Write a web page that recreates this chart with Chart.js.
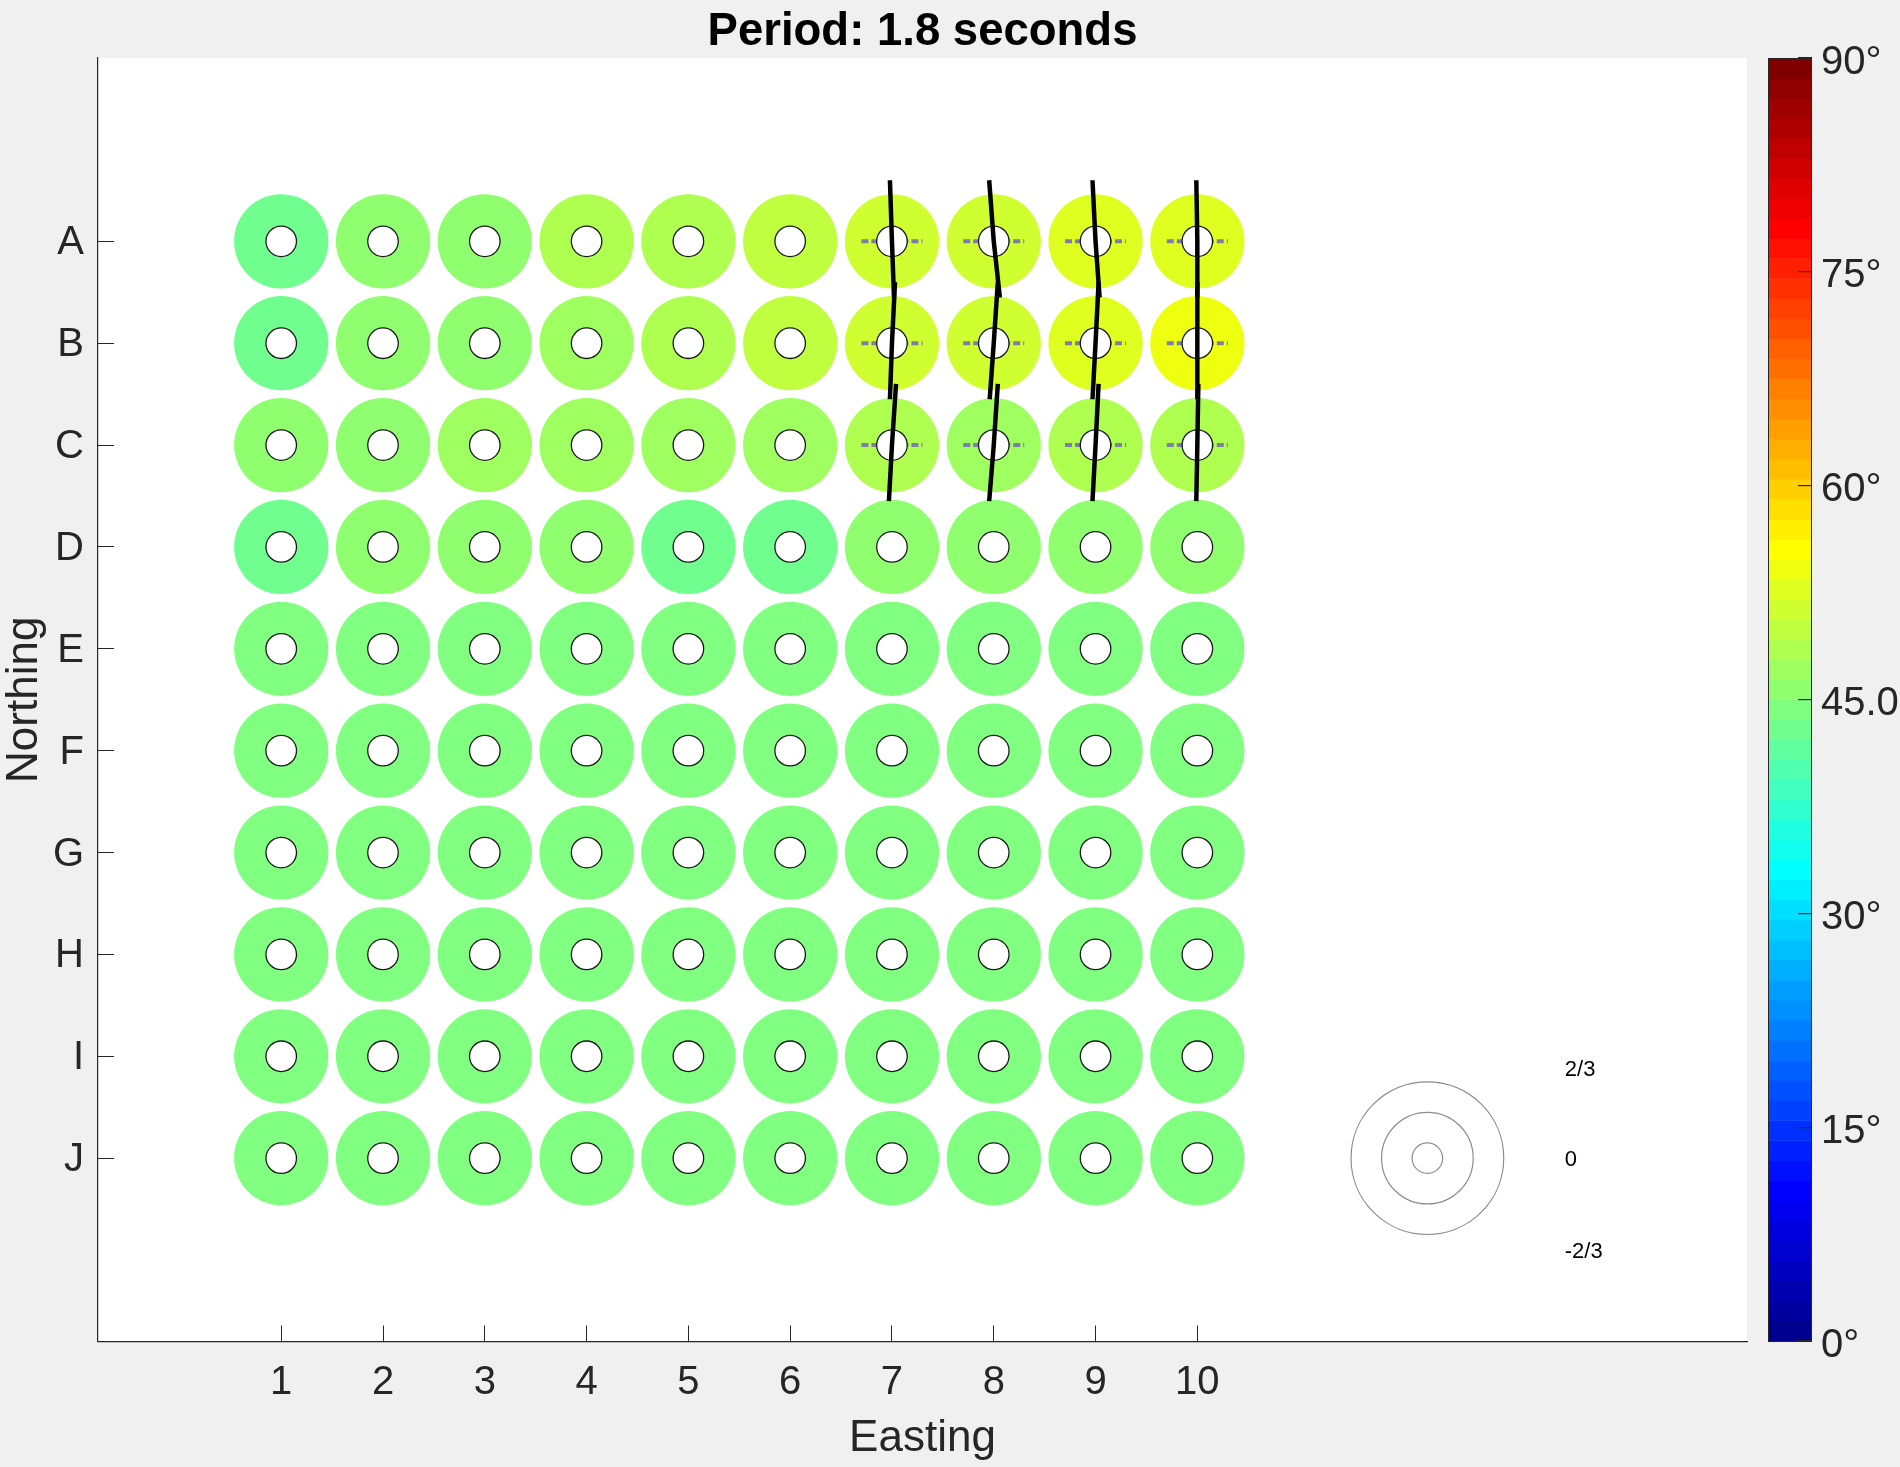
<!DOCTYPE html>
<html>
<head>
<meta charset="utf-8">
<script src="https://cdn.jsdelivr.net/npm/chart.js@4.4.1/dist/chart.umd.min.js"></script>
<style>
html,body{margin:0;padding:0;background:#f0f0f0;width:1900px;height:1467px;overflow:hidden}
#main{position:absolute;left:0;top:0;width:1900px;height:1467px}
#cbar{position:absolute;left:1760px;top:0;width:140px;height:1467px}
</style>
</head>
<body>
<canvas id="main" width="1900" height="1467"></canvas>
<canvas id="cbar" width="140" height="1467"></canvas>
<script>
// ---------------- data ----------------
const eastingTicks = [1, 2, 3, 4, 5, 6, 7, 8, 9, 10];
const northingTicks = [1, 2, 3, 4, 5, 6, 7, 8, 9, 10];
const northingLabels = ['A', 'B', 'C', 'D', 'E', 'F', 'G', 'H', 'I', 'J'];

// angle (degrees) for each station, row by row (A..J), columns 1..10
const rowA = [43.5, 45.6, 45.9, 48.0, 49.0, 50.2, 51.8, 51.2, 52.5, 53.0];
const rowB = [43.5, 45.2, 46.2, 47.7, 48.5, 50.2, 51.5, 51.2, 52.5, 54.2];
const rowC = [45.7, 45.9, 47.1, 47.0, 46.6, 47.2, 48.3, 47.3, 49.0, 48.6];
const rowD = [43.5, 45.5, 45.9, 45.5, 43.3, 43.4, 46.0, 46.0, 46.0, 46.2];
const rowE = [44.5, 44.5, 44.5, 44.5, 44.5, 44.5, 44.5, 44.5, 44.5, 44.5];
const rowF = [44.5, 44.5, 44.5, 44.5, 44.5, 44.5, 44.5, 44.5, 44.5, 44.5];
const rowG = [44.5, 44.5, 44.5, 44.5, 44.5, 44.5, 44.5, 44.5, 44.5, 44.5];
const rowH = [44.5, 44.5, 44.5, 44.5, 44.5, 44.5, 44.5, 44.5, 44.5, 44.5];
const rowI = [44.5, 44.5, 44.5, 44.5, 44.5, 44.5, 44.5, 44.5, 44.5, 44.5];
const rowJ = [44.5, 44.5, 44.5, 44.5, 44.5, 44.5, 44.5, 44.5, 44.5, 44.5];
const angleRows = [rowA, rowB, rowC, rowD, rowE, rowF, rowG, rowH, rowI, rowJ];

// glyph stations (rows A..C, columns 7..10) and their tilt offsets (easting units)
const glyphCols = [7, 8, 9, 10];
const glyphRows = [1, 2, 3];
const glyphTopShift = [
  [-0.02, -0.045, -0.03, -0.01],
  [0.03, 0.04, 0.03, 0.0],
  [0.04, 0.04, 0.03, 0.01]
];
const glyphBottomShift = [
  [0.02, 0.06, 0.04, 0.0],
  [-0.02, -0.04, -0.03, 0.0],
  [-0.03, -0.045, -0.03, -0.01]
];
const glyphUp = 0.6, glyphDown = 0.55, dashHalf = 0.3;

// scale legend
const legendCenter = {x: 12.26, y: 10};
const legendRadii = [0.75, 0.45, 0.15];
const legendLabels = ['2/3', '0', '-2/3'];
const legendLabelOffsets = [-0.87, 0.02, 0.92];
const legendLabelX = 13.61;

// colorbar
const cbTickValues = [0, 15, 30, 45, 60, 75, 90];
const cbTickLabels = ['0°', '15°', '30°', '45.0', '60°', '75°', '90°'];
const cbMin = 0, cbMax = 90, cbLevelsCount = 64;

// ---------------- helpers ----------------
const FONT = "'Liberation Sans', Arial, Helvetica, sans-serif";
const AX = '#262626';
const RING_R = 0.463, HOLE_R = 0.15;

function jetMap(m) {
  const q = Math.ceil(m / 4);
  const u = [];
  for (let i = 1; i <= q; i++) u.push(i / q);
  for (let i = 1; i < q; i++) u.push(1);
  for (let i = q; i >= 1; i--) u.push(i / q);
  const g0 = Math.ceil(q / 2) - (m % 4 === 1 ? 1 : 0);
  const J = Array.from({length: m}, () => [0, 0, 0]);
  for (let k = 0; k < u.length; k++) {
    const g = g0 + k + 1, r = g + q, b = g - q;
    if (r >= 1 && r <= m) J[r - 1][0] = u[k];
    if (g >= 1 && g <= m) J[g - 1][1] = u[k];
    if (b >= 1 && b <= m) J[b - 1][2] = u[k];
  }
  return J;
}
const JET = jetMap(cbLevelsCount);
const rgb = c => `rgb(${Math.round(c[0]*255)},${Math.round(c[1]*255)},${Math.round(c[2]*255)})`;
function colorFor(v) {
  let i = Math.floor((v - cbMin) / (cbMax - cbMin) * cbLevelsCount);
  i = Math.max(0, Math.min(cbLevelsCount - 1, i));
  return rgb(JET[i]);
}
const unitPx = chart => chart.scales.x.getPixelForValue(1) - chart.scales.x.getPixelForValue(0);

// ---------------- main chart ----------------
const cells = [];
angleRows.forEach((row, r) => row.forEach((v, c) => cells.push({x: eastingTicks[c], y: northingTicks[r], v})));

const datasets = [];
datasets.push({
  label: 'rings', data: cells, order: 5, showLine: false,
  pointStyle: 'circle',
  pointRadius: ctx => unitPx(ctx.chart) * RING_R,
  pointBackgroundColor: ctx => (ctx.raw ? colorFor(ctx.raw.v) : '#000'),
  pointBorderWidth: 0
});
glyphRows.forEach((r, ri) => {
  glyphCols.forEach((c, ci) => {
    datasets.push({
      label: 'dash', order: 3, showLine: true, pointRadius: 0,
      borderColor: '#7d7daa', borderWidth: 4, borderDash: [7, 3],
      data: [{x: c - dashHalf, y: r}, {x: c + dashHalf, y: r}]
    });
    datasets.push({
      label: 'tilt', order: 1, showLine: true, pointRadius: 0,
      borderColor: '#000', borderWidth: 4.5, borderCapStyle: 'butt',
      data: [{x: c + glyphTopShift[ri][ci], y: r - glyphUp}, {x: c, y: r}, {x: c + glyphBottomShift[ri][ci], y: r + glyphDown}]
    });
  });
});
datasets.push({
  label: 'holes', data: cells.map(p => ({x: p.x, y: p.y})), order: 2, showLine: false,
  pointStyle: 'circle',
  pointRadius: ctx => unitPx(ctx.chart) * HOLE_R,
  pointBackgroundColor: '#ffffff', pointBorderColor: '#1a1a1a', pointBorderWidth: 1.3
});
datasets.push({
  label: 'legend', order: 0, showLine: false,
  data: legendRadii.map(() => ({x: legendCenter.x, y: legendCenter.y})),
  pointStyle: 'circle',
  pointRadius: ctx => unitPx(ctx.chart) * legendRadii[ctx.dataIndex || 0],
  pointBackgroundColor: 'rgba(0,0,0,0)', pointBorderColor: '#8c8c8c', pointBorderWidth: 1.2
});

const plotBg = {
  id: 'plotBg',
  beforeDraw(chart) {
    const a = chart.chartArea, c = chart.ctx;
    c.save(); c.fillStyle = '#ffffff'; c.fillRect(a.left, a.top, a.right - a.left, a.bottom - a.top); c.restore();
  }
};
const legendText = {
  id: 'legendText',
  afterDatasetsDraw(chart) {
    const c = chart.ctx, sx = chart.scales.x, sy = chart.scales.y;
    c.save();
    c.font = `22px ${FONT}`; c.fillStyle = '#000'; c.textAlign = 'left'; c.textBaseline = 'middle';
    legendLabels.forEach((t, i) => {
      c.fillText(t, sx.getPixelForValue(legendLabelX), sy.getPixelForValue(legendCenter.y + legendLabelOffsets[i]));
    });
    c.restore();
  }
};

new Chart(document.getElementById('main'), {
  type: 'scatter',
  data: {datasets},
  plugins: [plotBg, legendText],
  options: {
    responsive: false, animation: false, events: [],
    layout: {padding: {left: 0, right: 153, top: 0, bottom: 0}},
    plugins: {
      legend: {display: false}, tooltip: {enabled: false},
      title: {
        display: true, text: 'Period: 1.8 seconds', fullSize: false, color: '#000',
        font: {family: FONT, size: 45.5, weight: 'bold', lineHeight: 1.1},
        padding: {top: 7.5, bottom: 0.45}
      }
    },
    scales: {
      x: {
        type: 'linear', position: 'bottom', min: -0.8, max: 15.4,
        afterBuildTicks: s => { s.ticks = eastingTicks.map(v => ({value: v})); },
        afterFit: s => { s.height = 125.5; },
        ticks: {font: {family: FONT, size: 40}, color: AX, padding: 33.5, maxRotation: 0, autoSkip: false, callback: v => String(v)},
        grid: {display: true, drawOnChartArea: false, drawTicks: true, tickLength: -16, color: AX, lineWidth: 1},
        border: {display: true, color: AX, width: 1.2},
        title: {display: true, text: 'Easting', color: AX, font: {family: FONT, size: 44, lineHeight: 1}, padding: {top: 0, bottom: 6.5}}
      },
      y: {
        type: 'linear', position: 'left', reverse: true, min: -0.8, max: 11.8,
        afterBuildTicks: s => { s.ticks = northingTicks.map(v => ({value: v})); },
        afterFit: s => { s.width = 98; },
        ticks: {font: {family: FONT, size: 40}, color: AX, padding: 30, labelOffset: 2, autoSkip: false, callback: v => northingLabels[v - 1]},
        grid: {display: true, drawOnChartArea: false, drawTicks: true, tickLength: -16, color: AX, lineWidth: 1},
        border: {display: true, color: AX, width: 1.2},
        title: {display: true, text: 'Northing', color: AX, font: {family: FONT, size: 44, lineHeight: 1}, padding: {top: 2.4, bottom: 0}}
      }
    }
  }
});

// ---------------- colorbar ----------------
const cbLevels = JET.map((c, i) => String(i));
new Chart(document.getElementById('cbar'), {
  type: 'bar',
  data: {
    labels: cbLevels,
    datasets: [{
      data: cbLevels.map(() => 1),
      backgroundColor: JET.map(rgb),
      borderWidth: 0, barPercentage: 1, categoryPercentage: 1,
      xAxisID: 'x', yAxisID: 'y'
    }]
  },
  options: {
    indexAxis: 'y', responsive: false, animation: false, events: [],
    layout: {padding: {left: 8, top: 58, bottom: 126, right: 0}},
    plugins: {legend: {display: false}, tooltip: {enabled: false}},
    scales: {
      y: {type: 'category', position: 'left', reverse: true, afterFit: s => { s.width = 0; },
          grid: {display: false}, ticks: {display: false}, border: {display: true, color: AX, width: 1, z: 1}},
      x: {type: 'linear', position: 'bottom', min: 0, max: 1, afterFit: s => { s.height = 0; },
          grid: {display: false}, ticks: {display: false}, border: {display: true, color: AX, width: 1, z: 1}},
      xt: {type: 'linear', position: 'top', min: 0, max: 1, afterFit: s => { s.height = 0; },
          grid: {display: false}, ticks: {display: false}, border: {display: true, color: AX, width: 1, z: 1}},
      yd: {
        type: 'linear', position: 'right', min: cbMin, max: cbMax, offset: false,
        afterBuildTicks: s => { s.ticks = cbTickValues.map(v => ({value: v})); },
        afterFit: s => { s.width = 89; },
        ticks: {font: {family: FONT, size: 40}, color: AX, padding: 23, labelOffset: 4.5, autoSkip: false, callback: (v, i) => cbTickLabels[i]},
        grid: {display: true, offset: false, z: 1, drawOnChartArea: false, drawTicks: true, tickLength: -13, color: AX, lineWidth: 1.2},
        border: {display: true, color: AX, width: 1, z: 1}
      }
    }
  }
});
</script>
</body>
</html>
